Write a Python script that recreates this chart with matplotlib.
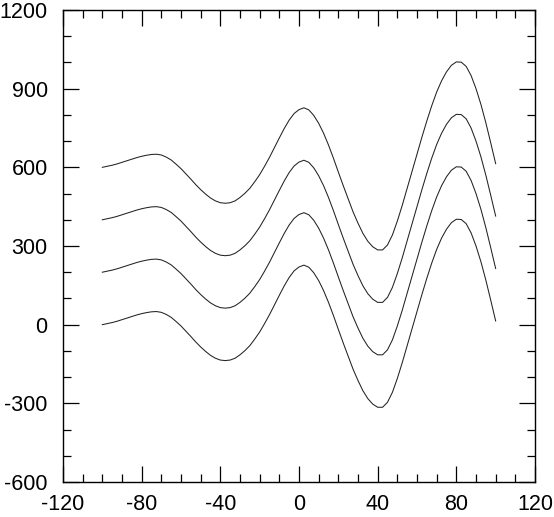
"""Four offset copies of the same wavy series, NCL-style xy plot."""
import numpy as np
import matplotlib
matplotlib.use("Agg")
import matplotlib.pyplot as plt

# x positions (every 2.5) and base curve values
X = [-100, -97.5, -95, -92.5, -90, -87.5, -85, -82.5, -80, -77.5, -75, -72.5,
     -70, -67.5, -65, -62.5, -60, -57.5, -55, -52.5, -50, -47.5, -45, -42.5,
     -40, -37.5, -35, -32.5, -30, -27.5, -25, -22.5, -20, -17.5, -15, -12.5,
     -10, -7.5, -5, -2.5, 0, 2.5, 5, 7.5, 10, 12.5, 15, 17.5, 20, 22.5, 25,
     27.5, 30, 32.5, 35, 37.5, 40, 42.5, 45, 47.5, 50, 52.5, 55, 57.5, 60,
     62.5, 65, 67.5, 70, 72.5, 75, 77.5, 80, 82.5, 85, 87.5, 90, 92.5, 95,
     97.5, 100]
BASE = [0, 4, 8, 13, 19, 25, 31, 37, 42, 46, 49, 50,
        47, 39, 28, 12, -5, -25, -45, -66, -85, -102, -117, -128,
        -135, -137, -135, -128, -115, -99, -80, -55, -28, 4, 38, 75,
        112, 148, 180, 205, 220, 227, 219, 198, 168, 130, 85, 35, -18, -70, -120,
        -170, -213, -252, -282, -303, -315, -315, -296, -258, -205, -145, -80, -15, 50,
        115, 177, 235, 287, 330, 364, 389, 402, 401, 385, 350, 300, 240, 170,
        93, 14]
OFFSETS = [0, 200, 400, 600]

XTICKS = [-120, -80, -40, 0, 40, 80, 120]
YTICKS = [-600, -300, 0, 300, 600, 900, 1200]

plt.rcParams.update({"font.family": ["Liberation Sans", "DejaVu Sans"],
                     "axes.unicode_minus": False})

fig = plt.figure(figsize=(5.54, 5.17), dpi=100)
ax = fig.add_axes([0.1137, 0.0677, 0.852, 0.913])

base = np.array(BASE, float)
for off in OFFSETS:
    ax.plot(X, base + off, color="#222222", lw=0.75)

ax.set_xlim(-120, 120); ax.set_ylim(-600, 1200)
ax.set_xticks(XTICKS); ax.set_yticks(YTICKS)
ax.set_xticks(np.arange(-120, 121, 10), minor=True)
ax.set_yticks(np.arange(-600, 1201, 100), minor=True)
ax.tick_params(which="both", direction="in", top=True, right=True, width=0.9, labelsize=15.5)
ax.tick_params(which="major", length=11.5)
ax.tick_params(which="minor", length=5.8)
ax.tick_params(axis="x", pad=8.5)
ax.tick_params(axis="y", pad=11)
for s in ax.spines.values():
    s.set_linewidth(1.0)

fig.savefig("out.png", dpi=100)
